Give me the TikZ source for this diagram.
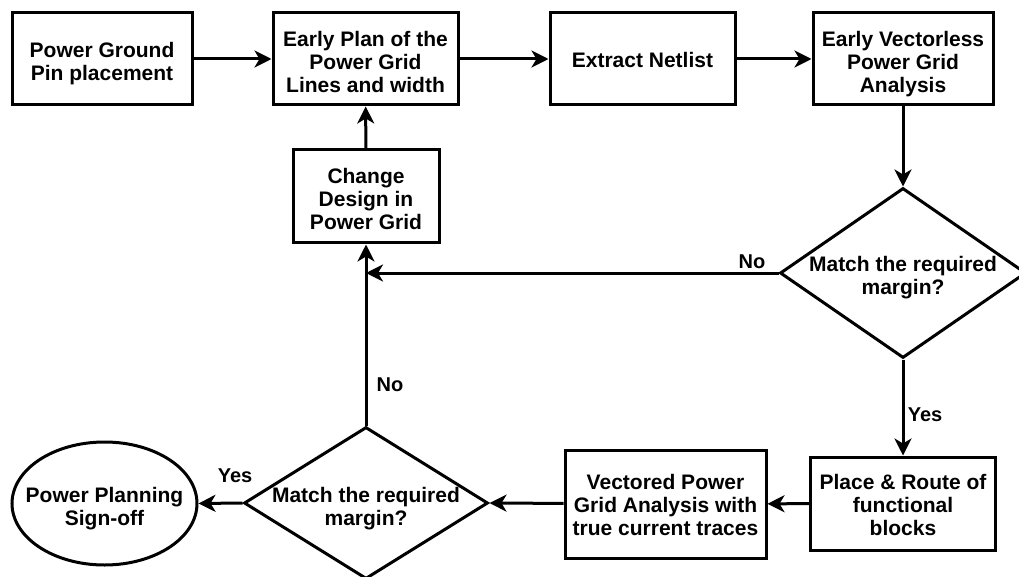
\documentclass[tikz,border=0pt]{standalone}
\usepackage{fontspec}
\setmainfont{Liberation Sans}
\usetikzlibrary{arrows.meta,shapes.geometric,calc}
% centred block of lines, lowered by #1 without changing its reported size
\newcommand\lines[2][0pt]{\raisebox{-#1}[\height][\depth]{\begin{tabular}{@{}c@{}}#2\end{tabular}}}
\begin{document}
\begin{tikzpicture}[x=1pt,y=-1pt,
  font=\fontsize{21}{23}\selectfont\bfseries,
  line width=3pt,
  box/.style={draw, rectangle, inner sep=0pt},
  decision/.style={draw, diamond, inner sep=0pt},
  terminal/.style={draw, ellipse, inner sep=0pt},
  flow/.style={-{Stealth[length=17pt,width=17pt,inset=5pt]}},
  lab/.style={font=\fontsize{20}{22}\selectfont\bfseries, inner sep=0pt}
]
\useasboundingbox (0,0) rectangle (1019,577);
\fill[white] (0,0) rectangle (1019,577);

% top row
\node[box, minimum width=180pt, minimum height=92pt] (pins) at (102,59)
  {\lines[5pt]{Power Ground\\Pin placement}};
\node[box, minimum width=185pt, minimum height=92pt] (plan) at (365.5,59)
  {\lines[6pt]{Early Plan of the\\Power Grid\\Lines and width}};
\node[box, minimum width=185pt, minimum height=92pt] (netlist) at (642.5,59)
  {\lines[4pt]{Extract Netlist}};
\node[box, minimum width=180pt, minimum height=92pt] (vless) at (903,59)
  {\lines[6pt]{Early Vectorless\\Power Grid\\Analysis}};

% feedback box
\node[box, minimum width=146pt, minimum height=93pt] (change) at (366,196.5)
  {\lines[5pt]{Change\\Design in\\Power Grid}};

% first decision
\node[decision, minimum width=246pt, minimum height=170pt,
  label={[align=center, yshift=-5pt, name=q1text]center:Match the required\\margin?}] (q1) at (903,273) {};

% bottom row
\node[box, minimum width=185pt, minimum height=93pt] (route) at (903,503.5)
  {\lines[4pt]{Place \& Route of\\functional\\blocks}};
\node[box, minimum width=201pt, minimum height=108pt] (vect) at (665.5,504)
  {\lines[4pt]{Vectored Power\\Grid Analysis with\\true current traces}};
\node[decision, minimum width=244pt, minimum height=152pt,
  label={[align=center, yshift=-6pt, name=q2text]center:Match the required\\margin?}] (q2) at (366,503) {};
\node[terminal, minimum width=185pt, minimum height=123pt,
  label={[align=center, yshift=-5pt, name=signofftext]center:Power Planning\\Sign-off}] (signoff) at (104.5,503.5) {};

% connectors
\draw[flow] (pins) -- (plan);
\draw[flow] (plan) -- (netlist);
\draw[flow] (netlist) -- (vless);
\draw[flow] (vless) -- (q1);
\coordinate (join) at (change.south |- q1.west);
\draw[flow] (q1.west) -- (join);
\draw[flow] (q1.south) -- (route.north);
\draw[flow] (route) -- (vect);
\draw[flow] (vect) -- (q2.east);
\draw[flow] (q2.west) -- (signoff.east);
\draw[flow] (q2.north) -- (change.south);
\draw[flow] (change) -- (plan);

% branch labels
\node[lab] (no1) at (752,262) {No};
\node[lab] (yes1) at (925,415) {Yes};
\node[lab] (no2) at (390,385) {No};
\node[lab] (yes2) at (235,476) {Yes};
\end{tikzpicture}
\end{document}
